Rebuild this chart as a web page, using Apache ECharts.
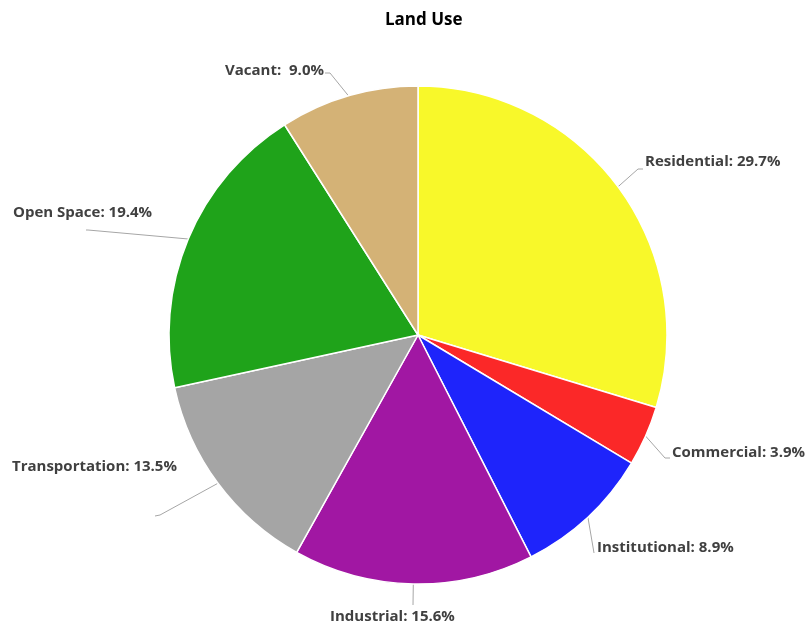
<!DOCTYPE html>
<html>
<head>
<meta charset="utf-8">
<script src="https://cdn.jsdelivr.net/npm/echarts@6/dist/echarts.min.js"></script>
<style>
  html, body { margin: 0; padding: 0; background: #fff; }
  #main { width: 806px; height: 628px; }
</style>
</head>
<body>
<div id="main"></div>
<script>
// 土地用途数据
var categories = ['Residential', 'Commercial', 'Institutional', 'Industrial', 'Transportation', 'Open Space', 'Vacant'];
var shares = [29.7, 3.9, 8.9, 15.6, 13.5, 19.4, 9.0];
var colors = ['#F8F82A', '#FB2828', '#1E24FB', '#A117A3', '#A5A5A5', '#1FA31A', '#D4B276'];

// 标签位置（左边缘 x, 中线 y）
var labelSpots = [[645, 162], [672, 453], [597, 548], [330, 617], [12, 467], [13, 213], [225, 71]];
// 引导线拐点（起点取饼图边缘）
var lineBends = [
    [[638, 169], [643, 169]],
    [[665, 458], [670, 458]],
    [[594, 553], [594, 553]],
    [[413, 605], [413, 605]],
    [[160, 515], [155, 516]],
    [[88, 230], [86, 230]],
    [[330, 73], [325, 73]]
];

var pieData = [];
for (var i = 0; i < categories.length; i++) {
    pieData.push({ name: categories[i], value: shares[i], itemStyle: { color: colors[i] } });
}

var myChart = echarts.init(document.getElementById('main'));
myChart.setOption({
    animation: false,
    title: {
        text: 'Land Use',
        left: 380,
        top: 7,
        textStyle: { fontFamily: 'Open Sans', fontWeight: 'bold', fontSize: 17, color: '#000' }
    },
    series: [{
        type: 'pie',
        center: [418, 335],
        radius: 249,
        startAngle: 90,
        clockwise: true,
        data: pieData,
        itemStyle: { borderColor: '#fff', borderWidth: 1.5 },
        label: {
            show: true,
            position: 'outside',
            overflow: 'none',
            formatter: function (p) {
                // Vacant 的标签原图里有两个空格
                var sep = p.name === 'Vacant' ? ':  ' : ': ';
                return p.name + sep + p.value.toFixed(1) + '%';
            },
            fontFamily: 'Open Sans',
            fontWeight: 'bold',
            fontSize: 15,
            color: '#404040'
        },
        labelLine: {
            show: true,
            length: 20,
            length2: 6,
            lineStyle: { color: '#A6A6A6', width: 1 }
        },
        labelLayout: function (params) {
            var s = labelSpots[params.dataIndex];
            var b = lineBends[params.dataIndex];
            var start = params.labelLinePoints ? params.labelLinePoints[0] : b[0];
            return {
                x: s[0], y: s[1], align: 'left', verticalAlign: 'middle',
                labelLinePoints: [start, b[0], b[1]]
            };
        }
    }]
});
</script>
</body>
</html>
